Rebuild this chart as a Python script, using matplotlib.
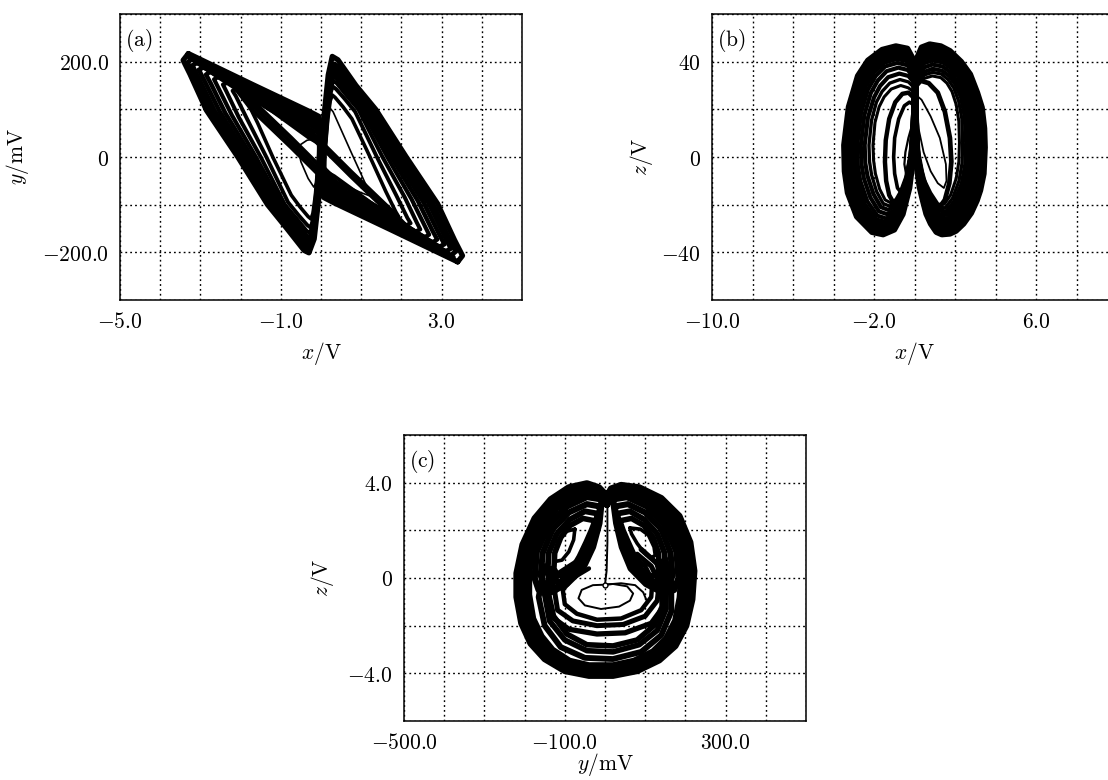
import matplotlib
matplotlib.use("Agg")
import matplotlib.pyplot as plt
from matplotlib.ticker import FixedLocator, FixedFormatter, MultipleLocator

# ---------------------------------------------------------------------------
# Phase portraits of the memristive circuit, traced loop by loop.
# Each loop is a closed polyline of (state, state) pairs.
# ---------------------------------------------------------------------------

# (a)  x / V  vs  y / mV : left scroll loops (outer -> inner)
a_left_loops = [
    [(-3.30, 217), (-1.70, 152), (-0.30, 96), (-0.05, 85), (0.02, 40), (0.03, -10), (-0.06, -90), (-0.17, -172), (-0.30, -201), (-0.42, -196), (-0.85, -150), (-1.33, -100), (-2.07, 0), (-2.85, 98), (-3.26, 174), (-3.43, 203), (-3.30, 217)],
    [(-3.20, 207), (-1.70, 146), (-0.30, 91), (-0.06, 80), (0.00, 40), (0.00, -10), (-0.08, -90), (-0.19, -170), (-0.30, -195), (-0.40, -190), (-0.80, -148), (-1.25, -100), (-1.98, 0), (-2.75, 98), (-3.15, 170), (-3.32, 198), (-3.20, 207)],
    [(-3.08, 198), (-1.70, 140), (-0.30, 86), (-0.07, 76), (-0.02, 40), (-0.02, -10), (-0.09, -90), (-0.20, -167), (-0.30, -190), (-0.40, -185), (-0.76, -146), (-1.18, -100), (-1.90, 0), (-2.65, 97), (-3.04, 165), (-3.20, 192), (-3.08, 198)],
    [(-2.92, 188), (-1.70, 134), (-0.30, 80), (-0.08, 70), (-0.03, 40), (-0.03, -10), (-0.10, -90), (-0.21, -163), (-0.30, -184), (-0.40, -178), (-0.72, -143), (-1.12, -100), (-1.82, 0), (-2.52, 95), (-2.90, 160), (-3.04, 183), (-2.92, 188)],
    [(-2.75, 179), (-1.65, 128), (-0.30, 74), (-0.08, 64), (-0.04, 40), (-0.04, -10), (-0.11, -90), (-0.22, -158), (-0.29, -178), (-0.38, -172), (-0.68, -140), (-1.05, -100), (-1.72, 0), (-2.38, 92), (-2.74, 154), (-2.86, 173), (-2.75, 179)],
    [(-2.55, 168), (-1.60, 122), (-0.30, 68), (-0.08, 58), (-0.05, 35), (-0.05, -10), (-0.12, -90), (-0.22, -152), (-0.28, -170), (-0.37, -164), (-0.64, -136), (-0.98, -100), (-1.62, 0), (-2.22, 88), (-2.56, 146), (-2.66, 163), (-2.55, 168)],
    [(-2.32, 156), (-1.50, 114), (-0.30, 60), (-0.07, 50), (-0.05, 30), (-0.05, -10), (-0.13, -90), (-0.22, -145), (-0.27, -160), (-0.36, -155), (-0.60, -130), (-0.90, -100), (-1.50, 0), (-2.05, 84), (-2.35, 137), (-2.44, 152), (-2.32, 156)],
    [(-2.08, 143), (-1.40, 106), (-0.30, 50), (-0.06, 40), (-0.05, 20), (-0.06, -10), (-0.14, -90), (-0.21, -135), (-0.26, -148), (-0.34, -143), (-0.56, -122), (-0.82, -95), (-1.36, 0), (-1.84, 80), (-2.12, 128), (-2.20, 139), (-2.08, 143)],
    [(-1.80, 128), (-1.20, 95), (-0.30, 40), (-0.05, 28), (-0.05, 10), (-0.07, -10), (-0.14, -80), (-0.20, -118), (-0.25, -130), (-0.32, -125), (-0.52, -105), (-0.74, -80), (-1.20, 0), (-1.58, 72), (-1.83, 115), (-1.90, 125), (-1.80, 128)],
    [(-0.05, 40), (-0.35, 35), (-0.58, 22), (-0.50, -10), (-0.32, -45), (-0.18, -63), (-0.10, -50), (-0.05, -10), (-0.05, 40)],
]

# (a) right scroll loops (outer -> inner)
a_right_loops = [
    [(3.40, -220), (1.72, -152), (0.32, -96), (0.07, -85), (0.00, -40), (-0.01, 10), (0.08, 90), (0.18, 172), (0.28, 211), (0.42, 204), (0.87, 150), (1.36, 100), (2.12, 0), (2.90, -98), (3.32, -174), (3.52, -207), (3.40, -220)],
    [(3.23, -207), (1.73, -146), (0.33, -91), (0.09, -80), (0.03, -40), (0.03, 10), (0.11, 90), (0.22, 170), (0.33, 195), (0.43, 190), (0.83, 148), (1.28, 100), (2.01, 0), (2.78, -98), (3.18, -170), (3.35, -198), (3.23, -207)],
    [(3.11, -198), (1.73, -140), (0.33, -86), (0.10, -76), (0.05, -40), (0.05, 10), (0.12, 90), (0.23, 167), (0.33, 190), (0.43, 185), (0.79, 146), (1.21, 100), (1.93, 0), (2.68, -97), (3.07, -165), (3.23, -192), (3.11, -198)],
    [(2.95, -188), (1.73, -134), (0.33, -80), (0.11, -70), (0.06, -40), (0.06, 10), (0.13, 90), (0.24, 163), (0.33, 184), (0.43, 178), (0.75, 143), (1.15, 100), (1.85, 0), (2.55, -95), (2.93, -160), (3.07, -183), (2.95, -188)],
    [(2.78, -179), (1.68, -128), (0.33, -74), (0.11, -64), (0.07, -40), (0.07, 10), (0.14, 90), (0.25, 158), (0.32, 178), (0.41, 172), (0.71, 140), (1.08, 100), (1.75, 0), (2.41, -92), (2.77, -154), (2.89, -173), (2.78, -179)],
    [(2.58, -168), (1.63, -122), (0.33, -68), (0.11, -58), (0.08, -35), (0.08, 10), (0.15, 90), (0.25, 152), (0.31, 170), (0.40, 164), (0.67, 136), (1.01, 100), (1.65, 0), (2.25, -88), (2.59, -146), (2.69, -163), (2.58, -168)],
    [(2.35, -156), (1.53, -114), (0.33, -60), (0.10, -50), (0.08, -30), (0.08, 10), (0.16, 90), (0.25, 145), (0.30, 160), (0.39, 155), (0.63, 130), (0.93, 100), (1.53, 0), (2.08, -84), (2.38, -137), (2.47, -152), (2.35, -156)],
    [(2.11, -143), (1.43, -106), (0.33, -50), (0.09, -40), (0.08, -20), (0.09, 10), (0.17, 90), (0.24, 135), (0.29, 148), (0.37, 143), (0.59, 122), (0.85, 95), (1.39, 0), (1.87, -80), (2.15, -128), (2.23, -139), (2.11, -143)],
    [(1.83, -128), (1.23, -95), (0.33, -40), (0.08, -28), (0.08, -10), (0.10, 10), (0.17, 80), (0.23, 118), (0.28, 130), (0.35, 125), (0.55, 105), (0.77, 80), (1.22, 0), (1.61, -72), (1.86, -115), (1.93, -125), (1.83, -128)],
    [(0.08, -20), (0.10, 60), (0.15, 110), (0.30, 95), (0.75, 10), (1.10, -55), (1.33, -85), (1.00, -75), (0.50, -55), (0.08, -20)],
]

# (a) passages between the two scrolls
a_crossings = [
    [(-3.20, 205), (-2.40, 168), (-1.74, 121), (-0.75, 41), (0.00, -22), (0.73, -82), (1.72, -122), (2.60, -170), (3.30, -210)],
    [(-3.00, 195), (-2.30, 160), (-1.74, 111), (-0.75, 31), (0.00, -32), (0.73, -91), (1.72, -128), (2.60, -175), (3.30, -213)],
    [(-2.80, 185), (-2.20, 152), (-1.74, 101), (-0.75, 21), (0.00, -42), (0.73, -100), (1.72, -134), (2.60, -180), (3.25, -213)],
    [(3.20, -205), (2.40, -168), (1.74, -121), (0.75, -41), (0.00, 22), (-0.73, 82), (-1.72, 122), (-2.60, 170), (-3.30, 210)],
    [(3.00, -195), (2.30, -160), (1.74, -111), (0.75, -31), (0.00, 32), (-0.73, 91), (-1.72, 128), (-2.60, 175), (-3.30, 213)],
]

# (b)  x / V  vs  z / V : left lobe loops (outer -> inner)
b_left_loops = [
    [(0.0, 40), (-0.35, 45.5), (-0.92, 46.5), (-1.6, 45), (-2.3, 40.5), (-2.8, 34), (-3.25, 21), (-3.48, 5), (-3.45, -6), (-3.3, -15), (-2.85, -25), (-2.1, -31.5), (-1.55, -32.5), (-1.0, -30.5), (-0.58, -24), (-0.25, -13), (-0.06, 0), (0.0, 20), (0.0, 40)],
    [(0.0, 39), (-0.35, 44.2), (-0.92, 45.2), (-1.6, 43.7), (-2.25, 39.2), (-2.72, 33), (-3.14, 20.5), (-3.36, 5), (-3.33, -5.5), (-3.18, -14), (-2.75, -23.8), (-2.05, -30.2), (-1.52, -31.2), (-1.0, -29.3), (-0.6, -23), (-0.27, -12.5), (-0.08, 0), (-0.02, 20), (0.0, 39)],
    [(0.0, 38), (-0.35, 43), (-0.9, 44), (-1.57, 42.4), (-2.18, 38), (-2.62, 32), (-3.02, 20), (-3.24, 5), (-3.21, -5), (-3.06, -13), (-2.65, -22.6), (-2.0, -29), (-1.5, -30), (-1.0, -28.1), (-0.62, -22), (-0.29, -12), (-0.1, 0), (-0.03, 20), (0.0, 38)],
    [(0.0, 37), (-0.35, 41.6), (-0.88, 42.6), (-1.53, 41), (-2.1, 36.7), (-2.52, 30.8), (-2.9, 19.5), (-3.11, 5), (-3.08, -4.5), (-2.94, -12), (-2.55, -21.3), (-1.95, -27.6), (-1.47, -28.7), (-1.0, -26.8), (-0.64, -21), (-0.31, -11.5), (-0.12, 0), (-0.04, 20), (0.0, 37)],
    [(0.0, 36), (-0.35, 40.2), (-0.86, 41.2), (-1.5, 39.6), (-2.02, 35.4), (-2.42, 29.6), (-2.78, 19), (-2.98, 5), (-2.95, -4), (-2.82, -11), (-2.45, -20), (-1.9, -26.2), (-1.44, -27.3), (-1.0, -25.5), (-0.66, -20), (-0.33, -11), (-0.14, 0), (-0.05, 20), (0.0, 36)],
    [(0.0, 35), (-0.35, 38.5), (-0.84, 39.5), (-1.45, 38), (-1.92, 34), (-2.3, 28.3), (-2.64, 18.5), (-2.83, 5), (-2.8, -3.5), (-2.68, -10), (-2.33, -18.6), (-1.84, -24.6), (-1.4, -25.8), (-1.0, -24), (-0.68, -19), (-0.35, -10.5), (-0.16, 0), (-0.06, 20), (0.0, 35)],
    [(0.0, 33), (-0.33, 36.5), (-0.8, 37.5), (-1.38, 36), (-1.82, 32), (-2.16, 26.8), (-2.48, 17.5), (-2.65, 5), (-2.62, -3), (-2.5, -9), (-2.18, -17), (-1.76, -22.8), (-1.35, -24), (-0.98, -22.3), (-0.7, -17.8), (-0.38, -10), (-0.18, 0), (-0.07, 18), (0.0, 33)],
    [(0.0, 31), (-0.3, 34), (-0.75, 35), (-1.3, 33.5), (-1.7, 29.8), (-2.0, 25), (-2.3, 16.5), (-2.46, 5), (-2.43, -2.5), (-2.32, -8), (-2.03, -15.5), (-1.66, -21), (-1.3, -22.2), (-0.96, -20.6), (-0.7, -16.5), (-0.4, -9.5), (-0.2, 0), (-0.08, 16), (0.0, 31)],
    [(0.0, 29), (-0.3, 31.5), (-0.72, 32.5), (-1.22, 31), (-1.6, 27.5), (-1.88, 23), (-2.12, 15.5), (-2.25, 5), (-2.22, -2), (-2.12, -7.5), (-1.87, -14.5), (-1.55, -19.5), (-1.24, -20.6), (-0.94, -19.2), (-0.7, -15.5), (-0.42, -9), (-0.22, 0), (-0.08, 14), (0.0, 29)],
    [(0.0, 27), (-0.3, 29), (-0.68, 30), (-1.15, 28.5), (-1.5, 25.2), (-1.75, 21), (-1.95, 14.5), (-2.05, 5), (-2.02, -1.5), (-1.93, -7), (-1.72, -13.5), (-1.45, -18), (-1.18, -19.2), (-0.92, -17.8), (-0.7, -14.5), (-0.44, -8.5), (-0.24, 0), (-0.08, 12), (0.0, 27)],
    [(-0.05, 25), (-0.3, 27), (-0.6, 26.5), (-0.95, 23), (-1.25, 16), (-1.42, 7), (-1.46, -2), (-1.4, -10), (-1.25, -16), (-1.02, -19.5), (-0.8, -19), (-0.55, -14), (-0.32, -7), (-0.15, 2), (-0.07, 14), (-0.05, 25)],
    [(-0.05, 22), (-0.25, 23), (-0.5, 21.5), (-0.78, 16), (-0.98, 8), (-1.03, 0), (-0.98, -7), (-0.84, -13), (-0.65, -15), (-0.45, -12), (-0.27, -5), (-0.12, 4), (-0.05, 22)],
    [(-0.1, 14), (-0.3, 8), (-0.45, 2), (-0.5, -3), (-0.42, -7), (-0.28, -6), (-0.17, -1), (-0.1, 6), (-0.1, 14)],
]

# (b) right lobe loops (outer -> inner)
b_right_loops = [
    [(0.05, 40), (0.35, 46), (0.75, 47.3), (1.3, 46.5), (1.75, 44.5), (2.3, 40), (2.75, 34.7), (3.1, 27), (3.33, 20.8), (3.45, 12), (3.48, 4), (3.42, -7), (3.25, -14), (3.08, -18.3), (2.8, -23.5), (2.42, -28), (2.05, -31), (1.75, -32.2), (1.35, -32.5), (1.08, -31.5), (0.8, -28), (0.58, -23.9), (0.4, -18), (0.25, -12.7), (0.12, -5), (0.05, 0), (0.03, 20), (0.05, 40)],
    [(0.05, 39), (0.38, 44.8), (0.78, 46), (1.35, 45.2), (1.85, 42.8), (2.4, 38), (2.85, 31), (3.2, 20), (3.34, 6), (3.3, -6), (3.0, -17), (2.4, -26.5), (1.75, -31), (1.1, -30.2), (0.62, -23), (0.3, -13), (0.08, 0), (0.05, 20), (0.05, 39)],
    [(0.06, 38), (0.4, 43.5), (0.8, 44.7), (1.38, 43.9), (1.85, 41.5), (2.35, 37), (2.77, 30), (3.08, 19.5), (3.21, 6), (3.17, -5.5), (2.9, -16), (2.33, -25.3), (1.73, -29.8), (1.12, -29), (0.65, -22), (0.32, -12.5), (0.1, 0), (0.06, 20), (0.06, 38)],
    [(0.07, 37), (0.42, 42.2), (0.82, 43.4), (1.4, 42.6), (1.85, 40.2), (2.3, 36), (2.69, 29), (2.96, 19), (3.08, 6), (3.04, -5), (2.8, -15), (2.26, -24), (1.71, -28.5), (1.14, -27.8), (0.68, -21), (0.34, -12), (0.12, 0), (0.07, 20), (0.07, 37)],
    [(0.08, 36), (0.44, 40.8), (0.84, 42), (1.4, 41.2), (1.83, 38.8), (2.25, 34.8), (2.6, 28), (2.85, 18.5), (2.95, 6), (2.91, -4.5), (2.7, -14), (2.2, -22.8), (1.68, -27.2), (1.15, -26.6), (0.7, -20), (0.36, -11.5), (0.14, 0), (0.08, 20), (0.08, 36)],
    [(0.09, 35), (0.46, 39.3), (0.86, 40.5), (1.4, 39.7), (1.8, 37.3), (2.18, 33.5), (2.5, 27), (2.72, 18), (2.81, 6), (2.77, -4), (2.58, -13), (2.13, -21.5), (1.65, -25.8), (1.16, -25.3), (0.72, -19), (0.38, -11), (0.16, 0), (0.09, 20), (0.09, 35)],
    [(0.1, 33.5), (0.48, 37.6), (0.88, 38.8), (1.38, 38), (1.76, 35.7), (2.1, 32), (2.4, 26), (2.6, 17.5), (2.68, 6), (2.64, -3.5), (2.46, -12), (2.05, -20), (1.61, -24.3), (1.17, -23.9), (0.74, -18), (0.4, -10.5), (0.18, 0), (0.1, 19), (0.1, 33.5)],
    [(0.11, 32), (0.5, 35.8), (0.9, 37), (1.36, 36.2), (1.72, 34), (2.02, 30.5), (2.3, 25), (2.48, 17), (2.55, 6), (2.51, -3), (2.34, -11), (1.97, -18.6), (1.57, -22.8), (1.18, -22.5), (0.76, -17), (0.42, -10), (0.2, 0), (0.11, 18), (0.11, 32)],
    [(0.11, 31), (0.5, 34.5), (0.9, 35.5), (1.33, 34.8), (1.66, 32.5), (1.94, 29), (2.18, 23.5), (2.34, 16), (2.38, 6), (2.35, -2.5), (2.2, -10), (1.88, -17.3), (1.52, -21.3), (1.18, -21.2), (0.78, -16), (0.44, -9.5), (0.21, 0), (0.11, 17), (0.11, 31)],
    [(0.11, 30), (0.48, 33), (0.88, 34), (1.3, 33.3), (1.6, 31), (1.85, 27.5), (2.06, 22), (2.19, 15), (2.22, 6), (2.19, -2), (2.06, -9), (1.78, -16), (1.47, -19.8), (1.17, -19.8), (0.8, -15), (0.46, -9), (0.22, 0), (0.11, 16), (0.11, 30)],
    [(0.1, 30), (0.3, 32), (0.7, 31), (1.15, 27), (1.5, 19), (1.75, 8), (1.82, -2), (1.72, -11), (1.5, -18), (1.2, -21.5), (0.9, -20), (0.6, -14), (0.35, -6), (0.15, 3), (0.08, 15), (0.1, 30)],
    [(0.08, 26), (0.35, 24), (0.8, 17), (1.25, 8), (1.55, -3), (1.58, -10), (1.45, -13), (1.15, -11), (0.8, -6), (0.45, 2), (0.2, 12), (0.08, 26)],
]

# (c)  y / mV  vs  z / V : outer ring loops
c_ring_loops = [
    [(5, 3.45), (-15, 3.8), (-45, 3.97), (-90, 3.8), (-135, 3.3), (-175, 2.5), (-205, 1.4), (-220, 0.2), (-220, -0.8), (-208, -1.9), (-185, -2.75), (-150, -3.4), (-100, -3.9), (-40, -4.1), (20, -4.1), (80, -3.9), (135, -3.45), (175, -2.85), (202, -2.0), (217, -0.9), (222, 0.3), (212, 1.5), (185, 2.6), (140, 3.35), (85, 3.8), (40, 3.9), (15, 3.75), (5, 3.45)],
    [(5, 3.35), (-15, 3.68), (-45, 3.84), (-90, 3.68), (-132, 3.2), (-170, 2.42), (-198, 1.36), (-212, 0.2), (-212, -0.78), (-200, -1.85), (-178, -2.68), (-145, -3.3), (-97, -3.8), (-40, -4.0), (20, -4.0), (78, -3.8), (131, -3.36), (169, -2.78), (195, -1.95), (209, -0.88), (214, 0.3), (204, 1.45), (178, 2.52), (135, 3.25), (83, 3.68), (40, 3.78), (15, 3.63), (5, 3.35)],
    [(5, 3.25), (-15, 3.56), (-44, 3.72), (-88, 3.56), (-128, 3.1), (-164, 2.34), (-191, 1.32), (-204, 0.2), (-204, -0.75), (-192, -1.8), (-171, -2.6), (-140, -3.2), (-94, -3.7), (-40, -3.9), (20, -3.9), (76, -3.7), (127, -3.27), (163, -2.7), (188, -1.9), (201, -0.86), (206, 0.3), (196, 1.4), (171, 2.44), (130, 3.15), (81, 3.56), (40, 3.66), (15, 3.51), (5, 3.25)],
    [(5, 3.15), (-15, 3.44), (-43, 3.6), (-86, 3.44), (-124, 3.0), (-158, 2.26), (-184, 1.28), (-196, 0.2), (-196, -0.72), (-185, -1.75), (-164, -2.52), (-135, -3.1), (-91, -3.58), (-40, -3.78), (20, -3.78), (74, -3.58), (123, -3.17), (157, -2.62), (181, -1.84), (193, -0.84), (198, 0.3), (188, 1.35), (164, 2.36), (125, 3.05), (79, 3.44), (40, 3.54), (15, 3.39), (5, 3.15)],
    [(5, 3.05), (-15, 3.32), (-42, 3.48), (-84, 3.32), (-120, 2.9), (-152, 2.18), (-177, 1.24), (-188, 0.2), (-188, -0.7), (-178, -1.7), (-157, -2.44), (-130, -3.0), (-88, -3.46), (-40, -3.65), (20, -3.65), (72, -3.46), (119, -3.07), (151, -2.54), (174, -1.78), (185, -0.82), (190, 0.3), (180, 1.3), (157, 2.28), (120, 2.95), (77, 3.32), (40, 3.42), (15, 3.27), (5, 3.05)],
]

# (c) arcs through the lower half, deepest first
c_lower_arcs = [
    [(-150, 0.5), (-165, -0.8), (-150, -2.0), (-110, -2.9), (-50, -3.35), (20, -3.4), (90, -3.1), (140, -2.4), (165, -1.4), (165, -0.2), (150, 0.8)],
    [(-135, 0.4), (-150, -0.7), (-138, -1.8), (-100, -2.6), (-45, -3.05), (20, -3.1), (85, -2.8), (130, -2.2), (152, -1.3), (152, -0.2), (140, 0.7)],
    [(-125, 0.3), (-140, -0.7), (-128, -1.6), (-95, -2.35), (-45, -2.8), (20, -2.85), (80, -2.6), (122, -2.0), (142, -1.2), (142, -0.2), (130, 0.6)],
    [(-60, 0.8), (-115, 0.2), (-145, -0.7), (-135, -1.6), (-90, -2.15), (-20, -2.35), (50, -2.3), (115, -1.9), (150, -1.1), (155, -0.2), (130, 0.6), (90, 1.2)],
    [(-50, 0.6), (-100, 0.1), (-125, -0.6), (-118, -1.35), (-80, -1.8), (-20, -2.0), (45, -1.95), (100, -1.6), (130, -0.95), (135, -0.2), (115, 0.5), (80, 1.0)],
    [(-40, 0.4), (-80, 0.0), (-105, -0.5), (-100, -1.1), (-70, -1.5), (-20, -1.75), (40, -1.7), (90, -1.35), (115, -0.8), (118, -0.1), (100, 0.5), (70, 0.9)],
]

# (c) upper-left lobe loops
c_left_ear = [
    [(-8, 3.3), (-45, 3.4), (-95, 3.0), (-140, 2.2), (-170, 1.1), (-175, 0.0), (-165, -0.5), (-135, -0.6), (-95, -0.25), (-55, 0.4), (-30, 1.3), (-14, 2.3), (-8, 3.3)],
    [(-12, 3.0), (-45, 3.1), (-90, 2.75), (-130, 2.05), (-155, 1.05), (-160, 0.1), (-150, -0.35), (-122, -0.4), (-90, -0.05), (-58, 0.55), (-34, 1.4), (-20, 2.2), (-12, 3.0)],
    [(-18, 2.7), (-50, 2.8), (-88, 2.45), (-120, 1.85), (-140, 1.05), (-143, 0.25), (-134, -0.15), (-110, -0.15), (-85, 0.15), (-60, 0.75), (-40, 1.45), (-27, 2.1), (-18, 2.7)],
    [(-25, 2.4), (-55, 2.5), (-87, 2.2), (-110, 1.7), (-125, 1.05), (-127, 0.4), (-118, 0.1), (-102, 0.1), (-83, 0.35), (-64, 0.9), (-47, 1.5), (-34, 2.0), (-25, 2.4)],
    [(-75, 2.05), (-98, 1.95), (-117, 1.55), (-127, 1.0), (-122, 0.7), (-107, 0.75), (-90, 1.1), (-78, 1.6), (-75, 2.05)],
]

# (c) upper-right lobe loops
c_right_ear = [
    [(20, 3.3), (55, 3.4), (105, 3.0), (150, 2.2), (178, 1.1), (183, 0.0), (172, -0.5), (142, -0.6), (102, -0.25), (64, 0.4), (42, 1.3), (28, 2.3), (20, 3.3)],
    [(24, 3.0), (57, 3.1), (100, 2.75), (140, 2.05), (163, 1.05), (168, 0.1), (158, -0.35), (130, -0.4), (98, -0.05), (68, 0.55), (46, 1.4), (33, 2.2), (24, 3.0)],
    [(30, 2.7), (62, 2.8), (98, 2.45), (130, 1.85), (148, 1.05), (151, 0.25), (142, -0.15), (118, -0.15), (93, 0.15), (70, 0.75), (52, 1.45), (39, 2.1), (30, 2.7)],
    [(37, 2.4), (66, 2.5), (97, 2.2), (120, 1.7), (133, 1.05), (135, 0.4), (126, 0.1), (110, 0.1), (92, 0.35), (74, 0.9), (58, 1.5), (45, 2.0), (37, 2.4)],
    [(62, 2.1), (88, 2.05), (108, 1.8), (122, 1.3), (125, 0.95), (115, 0.85), (98, 1.05), (80, 1.45), (66, 1.85), (62, 2.1)],
]

# (c) transient near the equilibrium
c_core = [
    [(6, 3.2), (6, 1.5), (4, 0.3), (0, -0.28), (-30, -0.3), (-58, -0.5), (-66, -0.85), (-50, -1.15), (-10, -1.3), (35, -1.2), (62, -0.95), (70, -0.65), (55, -0.35), (20, -0.25), (0, -0.28)],
    [(0, -0.28), (40, -0.22), (75, -0.3), (95, -0.6), (105, -1.0)],
]
c_start = (0, -0.28)

# ---------------------------------------------------------------------------
plt.rcParams["mathtext.fontset"] = "cm"
plt.rcParams["font.family"] = ["DejaVu Serif"]

W, H = 1108, 780
fig = plt.figure(figsize=(W / 100, H / 100), dpi=100)
FS = 15.5


def box(left, right, top, bottom):
    return [left / W, 1 - bottom / H, (right - left) / W, (bottom - top) / H]


def frame(ax, xlim, ylim, xstep, ystep, xticks, xlabels, yticks, ylabels,
          xlabel, ylabel, ylabel_x, xlabel_y, tag):
    ax.set_xlim(*xlim)
    ax.set_ylim(*ylim)
    ax.xaxis.set_major_locator(FixedLocator(xticks))
    ax.xaxis.set_major_formatter(FixedFormatter(xlabels))
    ax.yaxis.set_major_locator(FixedLocator(yticks))
    ax.yaxis.set_major_formatter(FixedFormatter(ylabels))
    ax.xaxis.set_minor_locator(MultipleLocator(xstep))
    ax.yaxis.set_minor_locator(MultipleLocator(ystep))
    ax.set_axisbelow(True)
    ax.grid(True, which="both", color="black", lw=1.0, ls=(0, (1.3, 2.2)))
    ax.tick_params(which="both", length=0, pad=8, labelsize=FS)
    for sp in ax.spines.values():
        sp.set_linewidth(1.1)
        sp.set_color("black")
    ax.set_xlabel(xlabel, fontsize=FS)
    ax.set_ylabel(ylabel, fontsize=FS)
    ax.xaxis.set_label_coords(0.5, xlabel_y)
    ax.yaxis.set_label_coords(ylabel_x, 0.5)
    ax.text(0.013, 0.955, tag, transform=ax.transAxes, ha="left", va="top",
            fontsize=FS)


def trace(ax, curves, widths):
    for pts, w in zip(curves, widths):
        xs = [p[0] for p in pts]
        ys = [p[1] for p in pts]
        ax.plot(xs, ys, color="black", lw=w, solid_joinstyle="round",
                solid_capstyle="round")


# ---- (a)
ax_a = fig.add_axes(box(120, 522, 14, 300))
frame(ax_a, (-5, 5), (-300, 300), 1, 100,
      [-5, -1, 3], [r"$-5.0$", r"$-1.0$", r"$3.0$"],
      [-200, 0, 200], [r"$-200.0$", r"$0$", r"$200.0$"],
      r"$x/\mathrm{V}$", r"$y/\mathrm{mV}$", -0.222, -0.14, r"$\mathrm{(a)}$")
scroll_w = [3.8, 3.5, 3.4, 3.3, 3.2, 3.0, 2.9, 2.8, 2.6, 1.2]
trace(ax_a, a_left_loops, scroll_w)
trace(ax_a, a_right_loops, scroll_w)
trace(ax_a, a_crossings, [3.0, 3.0, 3.0, 3.0, 3.0])

# ---- (b)
ax_b = fig.add_axes(box(712, 1117, 14, 300))
frame(ax_b, (-10, 10), (-60, 60), 2, 20,
      [-10, -2, 6], [r"$-10.0$", r"$-2.0$", r"$6.0$"],
      [-40, 0, 40], [r"$-40$", r"$0$", r"$40$"],
      r"$x/\mathrm{V}$", r"$z/\mathrm{V}$", -0.141, -0.14, r"$\mathrm{(b)}$")
trace(ax_b, b_left_loops,
      [4.2, 3.8, 3.6, 3.4, 3.2, 3.0, 3.0, 3.0, 2.4, 2.2, 3.2, 2.6, 1.6])
trace(ax_b, b_right_loops,
      [4.2, 3.8, 3.6, 3.4, 3.2, 3.0, 3.0, 3.0, 2.4, 2.2, 3.4, 1.3])

# ---- (c)
ax_c = fig.add_axes(box(404, 806, 435, 721))
frame(ax_c, (-500, 500), (-6, 6), 100, 2,
      [-500, -100, 300], [r"$-500.0$", r"$-100.0$", r"$300.0$"],
      [-4, 0, 4], [r"$-4.0$", r"$0$", r"$4.0$"],
      r"$y/\mathrm{mV}$", r"$z/\mathrm{V}$", -0.169, -0.105, r"$\mathrm{(c)}$")
trace(ax_c, c_ring_loops, [4.6, 4.4, 4.2, 4.0, 4.0])
trace(ax_c, c_lower_arcs, [4.2, 4.0, 4.0, 3.8, 3.6, 3.2])
trace(ax_c, c_left_ear, [4.6, 4.4, 4.2, 4.0, 2.6])
trace(ax_c, c_right_ear, [4.6, 4.4, 4.2, 4.0, 2.6])
trace(ax_c, c_core, [1.4, 1.4])
ax_c.plot([c_start[0]], [c_start[1]], marker="o", ms=3.5, mfc="white",
          mec="black", mew=1.0)

fig.savefig("out.png", dpi=100)
